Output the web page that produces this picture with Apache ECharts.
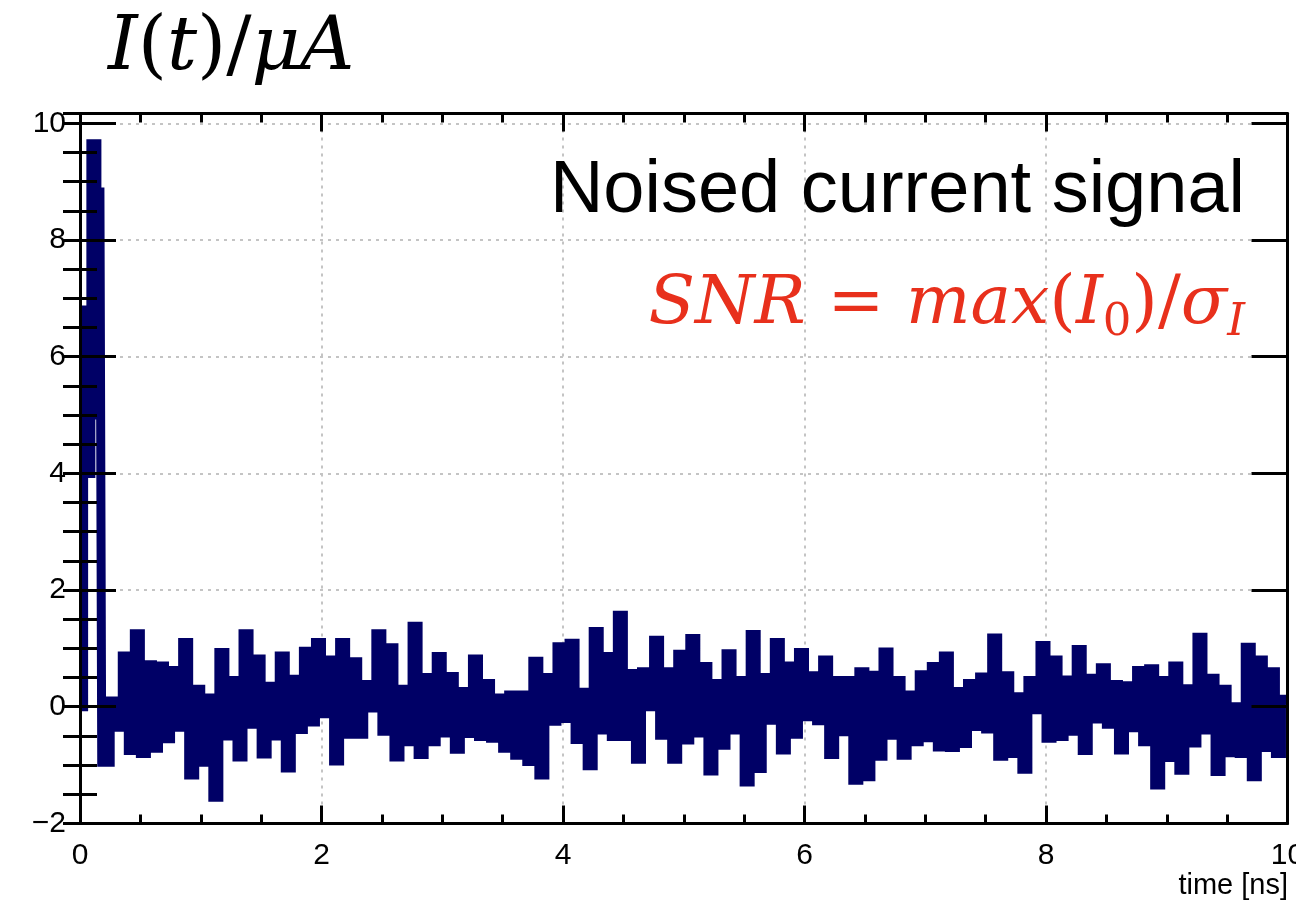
<!DOCTYPE html>
<html><head><meta charset="utf-8">
<script src="https://cdn.jsdelivr.net/npm/echarts@6/dist/echarts.min.js"></script>
<style>html,body{margin:0;padding:0;background:#fff}#c{width:1296px;height:911px}</style>
</head><body><div id="c"></div>
<script>
// Noised current signal I(t) in microampere.
// Peak: points given as [right edge of bin in ns, current]
const peakTimesNs = [0, 0.03, 0.06, 0.09, 0.14, 0.165, 0.18];
const peakCurrent = [0, 0, 6.8, 4.0, 9.65, 5.0, 8.9];
// Noise part: bins of 0.05 ns starting at 0.2 ns
const noiseStartNs = 0.2;
const binWidthNs = 0.05;
const noiseCurrent = [
  -0.95, 0.1,  -0.35, 0.87, -0.75, 1.25, -0.8, 0.72, -0.71, 0.7,
  -0.55, 0.62, -0.35, 1.1,  -1.17, 0.3,  -0.95, 0.15, -1.55, 0.93,
  -0.5, 0.45,  -0.86, 1.25, -0.3, 0.82,  -0.81, 0.35, -0.5, 0.87,
  -1.05, 0.47, -0.39, 0.95, -0.26, 1.1,  -0.12, 0.8,  -0.93, 1.1,
  -0.47, 0.77, -0.47, 0.38, -0.02, 1.25, -0.42, 1.01, -0.86, 0.3,
  -0.6, 1.38,  -0.82, 0.5,  -0.6, 0.86,  -0.45, 0.52, -0.73, 0.26,
  -0.46, 0.82, -0.51, 0.4,  -0.54, 0.15, -0.71, 0.2,  -0.83, 0.2,
  -0.94, 0.78, -1.17, 0.5,  -0.25, 1.03, -0.2, 1.09,  -0.56, 0.25,
  -1.01, 1.29, -0.4, 0.86,  -0.51, 1.57, -0.51, 0.57, -0.9, 0.6,
  0.0, 1.14,   -0.49, 0.6,  -0.9, 0.9,   -0.57, 1.17, -0.45, 0.69,
  -1.1, 0.4,   -0.66, 0.91, -0.4, 0.45,  -1.29, 1.24, -1.06, 0.5,
  -0.23, 1.1,  -0.74, 0.7,  -0.47, 0.93, -0.17, 0.53, -0.24, 0.8,
  -0.82, 0.45, -0.43, 0.45, -1.26, 0.6,  -1.2, 0.54,  -0.85, 0.94,
  -0.49, 0.45, -0.83, 0.2,  -0.6, 0.55,  -0.53, 0.69, -0.69, 0.87,
  -0.7, 0.26,  -0.63, 0.4,  -0.34, 0.51, -0.38, 1.18, -0.85, 0.53,
  -0.8, 0.17,  -1.07, 0.45, -0.05, 1.05, -0.54, 0.8,  -0.51, 0.46,
  -0.42, 0.98, -0.75, 0.49, -0.21, 0.67, -0.3, 0.38,  -0.74, 0.36,
  -0.36, 0.62, -0.6, 0.65,  -1.34, 0.45, -0.87, 0.7,  -1.09, 0.31,
  -0.62, 1.19, -0.4, 0.49,  -1.11, 0.3,  -0.79, 0.0,  -0.8, 1.02,
  -1.2, 0.8,   -0.7, 0.6,   -0.8, 0.13
];
const xTickLabels = ['0', '2', '4', '6', '8', '10'];
const yTickLabels = ['\u22122', '0', '2', '4', '6', '8', '10'];
const yMin = -2, yMax = 10.17, xMin = 0, xMax = 10;

const points = peakTimesNs.map((t, i) => [t, peakCurrent[i]])
  .concat(noiseCurrent.map((v, k) => [+(noiseStartNs + binWidthNs * (k + 1)).toFixed(3), v]));

const black = '#000';
const labelFont = {fontFamily: 'Liberation Sans, Arial, sans-serif', fontSize: 30, color: black};
const frameLine = {show: true, onZero: false, lineStyle: {color: black, width: 3}};
const gridDots = {show: true, lineStyle: {type: [3, 5], color: '#c4c4c4', width: 2}};

function xLabel(v) { const i = Math.round(v / 2); return Math.abs(v - i * 2) < 1e-6 ? (xTickLabels[i] || '') : ''; }
function yLabel(v) { const i = Math.round((v + 2) / 2); return Math.abs(v - (i * 2 - 2)) < 1e-6 ? (yTickLabels[i] || '') : ''; }

const chart = echarts.init(document.getElementById('c'), null, {renderer: 'canvas'});
chart.setOption({
  animation: false,
  backgroundColor: '#fff',
  grid: {left: 80, right: 8.5, top: 113.5, bottom: 87.6, containLabel: false, outerBoundsMode: 'none'},
  xAxis: [
    {type: 'value', position: 'bottom', min: xMin, max: xMax, interval: 2, z: 3,
     axisLine: frameLine,
     axisTick: {show: true, inside: true, length: 18, lineStyle: {color: black, width: 3}},
     minorTick: {show: true, splitNumber: 4, length: 9, lineStyle: {color: black, width: 3}},
     axisLabel: Object.assign({show: true, margin: 17, formatter: xLabel, hideOverlap: false}, labelFont),
     splitLine: {show: false}},
    {type: 'value', position: 'top', min: xMin, max: xMax, interval: 2, z: 3,
     axisLine: frameLine,
     axisTick: {show: true, inside: true, length: 18, lineStyle: {color: black, width: 3}},
     minorTick: {show: true, splitNumber: 4, length: 9, lineStyle: {color: black, width: 3}},
     axisLabel: {show: false}, splitLine: {show: false}},
    {type: 'value', position: 'bottom', min: xMin, max: xMax, interval: 2, z: 0,
     axisLine: {show: false}, axisTick: {show: false}, axisLabel: {show: false},
     splitLine: gridDots}
  ],
  yAxis: [
    {type: 'value', position: 'left', min: yMin, max: yMax, interval: 2, z: 3,
     axisLine: frameLine,
     axisTick: {show: true, inside: true, length: 36, lineStyle: {color: black, width: 3}},
     axisLabel: Object.assign({show: true, margin: 14, formatter: yLabel}, labelFont),
     splitLine: {show: false}},
    {type: 'value', position: 'left', min: yMin, max: yMax, interval: 0.5, z: 3,
     axisLine: {show: false},
     axisTick: {show: true, inside: true, length: 17, lineStyle: {color: black, width: 3}},
     axisLabel: {show: false}, splitLine: {show: false}},
    {type: 'value', position: 'right', min: yMin, max: yMax, interval: 2, z: 3,
     axisLine: frameLine,
     axisTick: {show: true, inside: true, length: 36, lineStyle: {color: black, width: 3}},
     axisLabel: {show: false}, splitLine: {show: false}},
    {type: 'value', position: 'right', min: yMin, max: yMax, interval: 0.5, z: 3,
     axisLine: {show: false},
     axisTick: {show: true, inside: true, length: 17, lineStyle: {color: black, width: 3}},
     axisLabel: {show: false}, splitLine: {show: false}},
    {type: 'value', position: 'left', min: yMin, max: yMax, interval: 2, z: 0,
     axisLine: {show: false}, axisTick: {show: false}, axisLabel: {show: false},
     splitLine: gridDots}
  ],
  series: [{
    type: 'line', xAxisIndex: 0, yAxisIndex: 0, data: points, step: 'start',
    symbol: 'none', showSymbol: false, z: 2, clip: true,
    lineStyle: {color: '#000066', width: 9, join: 'miter', cap: 'butt'}
  }],
  graphic: [
    {type: 'text', z: 10, style: {
      x: 108, y: 50, align: 'left', verticalAlign: 'middle',
      text: '{it|I}{up|(}{it|t}{up|)/}{it|μA}',
      rich: {
        it: {fontFamily: 'DejaVu Serif', fontStyle: 'italic', fontSize: 75, lineHeight: 88, fill: black},
        up: {fontFamily: 'DejaVu Serif', fontSize: 75, lineHeight: 88, fill: black}
      }}},
    {type: 'text', z: 10, style: {
      x: 1245, y: 192, align: 'right', verticalAlign: 'middle',
      text: 'Noised current signal', fill: black,
      font: '74px "Liberation Sans", Arial, sans-serif'}},
    {type: 'text', z: 10, style: {
      x: 1245, y: 305, align: 'right', verticalAlign: 'middle',
      text: '{it|SNR}{up| = }{it|max}{up|(}{it|I}{sub|0}{up|)/}{it|σ}{subit|I}',
      rich: {
        it: {fontFamily: 'DejaVu Serif', fontStyle: 'italic', fontSize: 68, lineHeight: 82, fill: '#e8301c'},
        up: {fontFamily: 'DejaVu Serif', fontSize: 68, lineHeight: 82, fill: '#e8301c'},
        sub: {fontFamily: 'DejaVu Serif', fontSize: 45, lineHeight: 30, verticalAlign: 'bottom', fill: '#e8301c'},
        subit: {fontFamily: 'DejaVu Serif', fontStyle: 'italic', fontSize: 45, lineHeight: 30, verticalAlign: 'bottom', fill: '#e8301c'}
      }}},
    {type: 'text', z: 10, style: {
      x: 1288, y: 886, align: 'right', verticalAlign: 'middle',
      text: 'time [ns]', fill: black,
      font: '29px "Liberation Sans", Arial, sans-serif'}}
  ]
});
</script></body></html>
